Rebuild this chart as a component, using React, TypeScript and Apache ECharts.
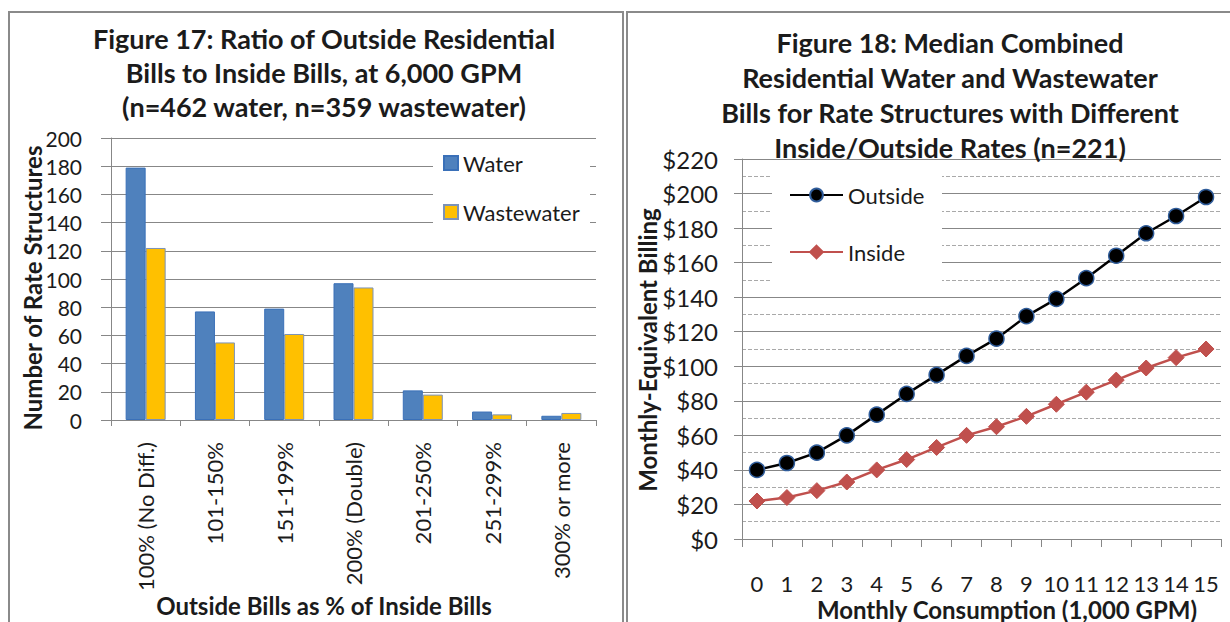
import React, { useEffect, useRef } from "react";
import * as echarts from "echarts";

// Figure 17 data: number of rate structures per outside/inside bill ratio
const ratioCategories = [
  "100% (No Diff.)",
  "101-150%",
  "151-199%",
  "200% (Double)",
  "201-250%",
  "251-299%",
  "300% or more",
];
const waterCounts = [179, 77, 79, 97, 21, 6, 3];
const wastewaterCounts = [122, 55, 61, 94, 18, 4, 5];

// Figure 18 data: median combined bills by monthly consumption (1,000 GPM)
const consumption = ["0", "1", "2", "3", "4", "5", "6", "7", "8", "9", "10", "11", "12", "13", "14", "15"];
const outsideBills = [40, 44, 50, 60, 72, 84, 95, 106, 116, 129, 139, 151, 164, 177, 187, 198];
const insideBills = [22, 24, 28, 33, 40, 46, 53, 60, 65, 71, 78, 85, 92, 99, 105, 110];

const title17 = [
  "Figure 17: Ratio of Outside Residential",
  "Bills to Inside Bills, at 6,000 GPM",
  "(n=462 water, n=359 wastewater)",
];
const title18 = [
  "Figure 18: Median Combined",
  "Residential Water and Wastewater",
  "Bills for Rate Structures with Different",
  "Inside/Outside Rates (n=221)",
];

const FONT = "Lato, 'Liberation Sans', sans-serif";
const GRID_GRAY = "#878787";
const TEXT = "#1b1b1b";

export default function App() {
  const ref = useRef<HTMLDivElement>(null);

  useEffect(() => {
    document.body.style.margin = "0";
    if (!ref.current) return;
    const chart = echarts.init(ref.current, undefined, { renderer: "svg" });

    const titleText = (lines: string[], cx: number, y0: number, step: number, size: number) =>
      lines.map((t, i) => ({
        type: "text",
        x: cx,
        y: y0 + i * step,
        z: 10,
        style: {
          text: t,
          fill: TEXT,
          font: `bold ${size}px ${FONT}`,
          textAlign: "center",
          textVerticalAlign: "middle",
        },
      }));

    chart.setOption({
      animation: false,
      backgroundColor: "#ffffff",
      textStyle: { fontFamily: FONT },
      grid: [
        { left: 111, top: 138, width: 485, height: 282 },
        { left: 742, top: 159, width: 479, height: 380 },
      ],
      xAxis: [
        {
          type: "category",
          gridIndex: 0,
          data: ratioCategories,
          axisLine: { lineStyle: { color: GRID_GRAY, width: 1 } },
          axisTick: { show: true, length: 6, lineStyle: { color: GRID_GRAY } },
          axisLabel: {
            rotate: 90,
            interval: 0,
            margin: 22,
            fontSize: 22,
            color: TEXT,
            fontFamily: FONT,
          },
        },
        {
          type: "category",
          gridIndex: 1,
          data: consumption,
          boundaryGap: true,
          axisLine: { lineStyle: { color: GRID_GRAY, width: 1 } },
          axisTick: { show: true, length: 8, lineStyle: { color: GRID_GRAY } },
          axisLabel: {
            interval: 0,
            margin: 33,
            fontSize: 22,
            color: TEXT,
            fontFamily: FONT,
          },
        },
      ],
      yAxis: [
        {
          type: "value",
          gridIndex: 0,
          min: 0,
          max: 200,
          interval: 20,
          axisLine: { show: true, lineStyle: { color: GRID_GRAY } },
          axisTick: { show: true, length: 10, lineStyle: { color: GRID_GRAY } },
          splitLine: { show: true, lineStyle: { color: GRID_GRAY, width: 1 } },
          axisLabel: { margin: 29, fontSize: 21, color: TEXT, fontFamily: FONT },
        },
        {
          type: "value",
          gridIndex: 1,
          min: 0,
          max: 220,
          interval: 20,
          axisLine: { show: true, lineStyle: { color: GRID_GRAY } },
          axisTick: { show: true, length: 8, lineStyle: { color: GRID_GRAY } },
          splitLine: { show: true, lineStyle: { color: GRID_GRAY, width: 1 } },
          minorTick: { show: false, splitNumber: 2 },
          minorSplitLine: { show: true, lineStyle: { color: "#a9a9a9", type: "dashed", width: 1 } },
          axisLabel: {
            margin: 24,
            fontSize: 24,
            color: TEXT,
            fontFamily: FONT,
            formatter: (v: number) => "$" + v,
          },
        },
      ],
      legend: [
        {
          data: ["Water", "Wastewater"],
          orient: "vertical",
          left: 443,
          top: 152,
          icon: "rect",
          itemWidth: 14,
          itemHeight: 14,
          itemGap: 27,
          padding: 0,
          textStyle: { fontSize: 22, color: TEXT, fontFamily: FONT },
        },
        {
          data: ["Outside", "Inside"],
          orient: "vertical",
          left: 789,
          top: 184,
          itemWidth: 53,
          itemHeight: 16,
          itemGap: 35,
          padding: 0,
          textStyle: { fontSize: 22, color: TEXT, fontFamily: FONT },
        },
      ],
      series: [
        {
          name: "Water",
          type: "bar",
          xAxisIndex: 0,
          yAxisIndex: 0,
          data: waterCounts,
          barWidth: 20,
          barGap: "0%",
          itemStyle: { color: "#4F81BD", borderColor: "#3A70B8", borderWidth: 1 },
        },
        {
          name: "Wastewater",
          type: "bar",
          xAxisIndex: 0,
          yAxisIndex: 0,
          data: wastewaterCounts,
          barWidth: 20,
          barGap: "0%",
          itemStyle: { color: "#FFC000", borderColor: "#7C93B8", borderWidth: 1 },
        },
        {
          name: "Outside",
          type: "line",
          xAxisIndex: 1,
          yAxisIndex: 1,
          data: outsideBills,
          symbol: "circle",
          symbolSize: 15,
          lineStyle: { color: "#000000", width: 2.5 },
          itemStyle: { color: "#000000", borderColor: "#2F5C9A", borderWidth: 1.5 },
        },
        {
          name: "Inside",
          type: "line",
          xAxisIndex: 1,
          yAxisIndex: 1,
          data: insideBills,
          symbol: "diamond",
          symbolSize: 16,
          lineStyle: { color: "#C0504D", width: 2.5 },
          itemStyle: { color: "#C0504D", borderColor: "#C0504D", borderWidth: 1 },
        },
      ],
      graphic: [
        // panel frames
        {
          type: "rect",
          z: 0,
          shape: { x: 9, y: 12, width: 614, height: 640 },
          style: { fill: "none", stroke: "#8a8a8a", lineWidth: 2 },
        },
        {
          type: "rect",
          z: 0,
          shape: { x: 627, y: 12, width: 640, height: 640 },
          style: { fill: "none", stroke: "#8a8a8a", lineWidth: 2 },
        },
        // legend backgrounds
        {
          type: "rect",
          z: 1,
          shape: { x: 433, y: 145, width: 157, height: 83 },
          style: { fill: "#ffffff" },
        },
        {
          type: "rect",
          z: 1,
          shape: { x: 772, y: 166, width: 170, height: 124 },
          style: { fill: "#ffffff" },
        },
        ...titleText(title17, 324, 38, 34, 27),
        ...titleText(title18, 950, 42, 35, 27),
        // axis names
        {
          type: "text",
          x: 32,
          y: 288,
          rotation: Math.PI / 2,
          z: 10,
          style: {
            text: "Number of Rate Structures",
            fill: TEXT,
            font: `bold 24px ${FONT}`,
            textAlign: "center",
            textVerticalAlign: "middle",
          },
        },
        {
          type: "text",
          x: 324,
          y: 605,
          z: 10,
          style: {
            text: "Outside Bills as % of Inside Bills",
            fill: TEXT,
            font: `bold 24px ${FONT}`,
            textAlign: "center",
            textVerticalAlign: "middle",
          },
        },
        {
          type: "text",
          x: 647,
          y: 350,
          rotation: Math.PI / 2,
          z: 10,
          style: {
            text: "Monthly-Equivalent Billing",
            fill: TEXT,
            font: `bold 24px ${FONT}`,
            textAlign: "center",
            textVerticalAlign: "middle",
          },
        },
        {
          type: "text",
          x: 1007,
          y: 609,
          z: 10,
          style: {
            text: "Monthly Consumption (1,000 GPM)",
            fill: TEXT,
            font: `bold 24px ${FONT}`,
            textAlign: "center",
            textVerticalAlign: "middle",
          },
        },
      ],
    });

    return () => chart.dispose();
  }, []);

  return <div ref={ref} style={{ width: 1230, height: 622 }} />;
}
